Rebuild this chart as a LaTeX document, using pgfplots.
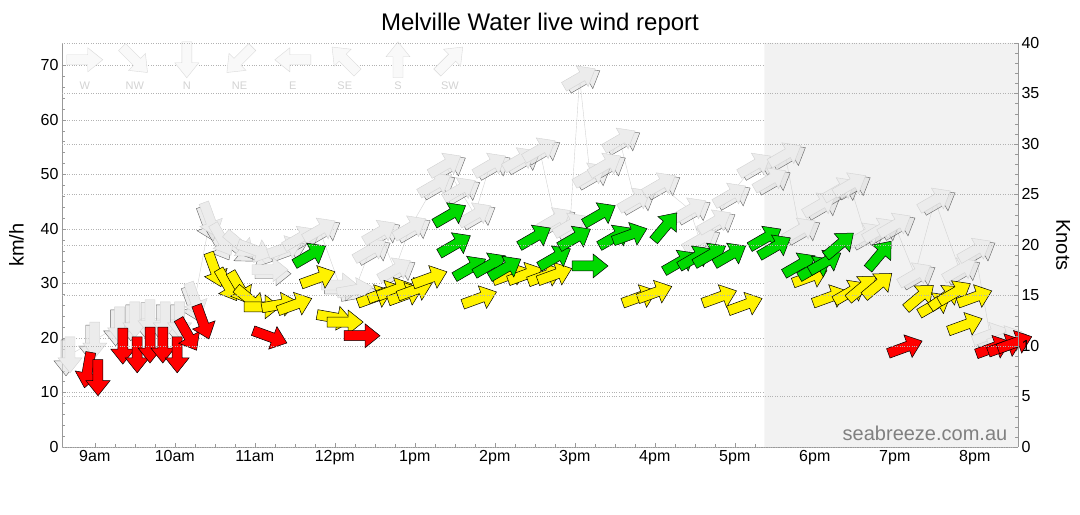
\documentclass[border=0pt]{standalone}
\usepackage{pgfplots}
\usepackage{pgfplotstable}
\pgfplotsset{compat=1.18}
\usepackage{fontspec}
\setmainfont{Liberation Sans}
\pgfdeclareplotmark{warrow}{\pgfpathmoveto{\pgfpoint{-18pt}{-5pt}}\pgfpathlineto{\pgfpoint{3pt}{-5pt}}\pgfpathlineto{\pgfpoint{3pt}{-12pt}}\pgfpathlineto{\pgfpoint{18pt}{0pt}}\pgfpathlineto{\pgfpoint{3pt}{12pt}}\pgfpathlineto{\pgfpoint{3pt}{5pt}}\pgfpathlineto{\pgfpoint{-18pt}{5pt}}\pgfpathclose\pgfusepathqfillstroke}
\pgfplotstableread{
x y a
8.91 14.1 -100
9.04 12.7 -90
9.35 18.5 -90
9.53 16.9 -90
9.69 18.7 -90
9.85 18.7 -90
10.03 16.9 -90
10.16 20.6 -60
10.35 22.9 -70
11.19 20.2 -20
12.34 20.4 0
19.13 18.3 20
20.23 18.2 20
20.38 18.5 20
20.5 19.1 20
}\red
\pgfplotstableread{
x y a
10.5 32.5 -70
10.66 29.7 -60
10.81 29.2 -60
10.94 27.0 -40
11.09 25.7 0
11.31 26.1 10
11.5 26.1 20
11.79 31.0 20
12.0 23.7 -10
12.13 22.9 0
12.5 27.5 20
12.63 28.3 20
12.75 28.8 20
12.88 27.9 20
13.0 28.8 20
13.19 31.0 20
13.81 27.3 20
14.19 31.6 20
14.38 31.6 20
14.63 31.4 20
14.75 31.6 20
15.81 27.5 20
16.0 28.3 20
16.81 27.5 20
17.13 26.1 20
17.94 31.2 20
18.19 27.5 20
18.44 28.4 30
18.59 29.2 40
18.79 29.7 40
19.31 27.5 40
19.5 26.1 30
19.63 27.5 35
19.75 28.3 30
20.0 27.5 20
19.88 22.4 20
}\yel
\pgfplotstableread{
x y a
11.69 35.2 30
13.44 42.6 30
13.5 37.1 30
13.69 32.8 30
13.94 33.4 30
14.13 32.8 30
14.5 38.5 30
14.75 34.7 30
15.0 38.3 30
15.19 33.2 0
15.31 42.6 30
15.5 38.5 30
15.69 38.9 20
16.13 40.4 50
16.31 33.9 30
16.5 34.7 30
16.69 35.2 30
16.94 35.2 30
17.38 38.3 30
17.5 36.7 30
17.81 33.4 30
18.0 32.8 30
18.13 33.9 30
18.31 37.1 40
18.81 35.2 50
}\grn
\pgfplotstableread{
x y a
8.69 16.9 -90
9.0 19.6 -90
9.31 22.4 -90
9.5 23.3 -90
9.69 23.7 -90
9.88 23.3 -90
10.06 23.3 -90
10.25 27.0 -70
10.44 41.7 -70
10.59 38.0 -60
10.81 37.1 -40
11.0 36.1 -20
11.19 32.5 0
11.38 36.5 20
11.56 38.3 30
11.81 39.8 30
12.06 29.7 0
12.25 28.8 10
12.44 36.1 30
12.56 39.4 30
12.75 32.5 30
12.94 40.2 30
13.25 48.1 30
13.38 51.7 30
13.56 47.2 30
13.75 42.6 30
13.94 51.7 30
14.31 52.7 30
14.56 54.5 30
14.75 41.7 30
14.94 40.7 30
15.06 67.7 30
15.19 49.9 30
15.38 51.7 30
15.56 56.3 30
15.75 45.3 30
16.06 48.1 30
16.44 43.5 30
16.56 38.0 30
16.75 41.3 30
16.94 46.2 30
17.25 51.7 30
17.44 49.0 30
17.63 53.6 30
17.81 39.8 30
18.06 44.4 30
18.31 47.2 30
18.44 48.1 30
18.63 38.9 30
18.81 39.8 30
19.0 40.7 30
19.25 31.6 30
19.5 45.3 30
19.81 32.5 30
20.0 36.1 30
20.19 20.6 20
20.38 20.0 20
}\gry
\pgfplotstableread{
x y a
8.875 71 0
9.5 71 -45
10.15 71 -90
10.81 71 -135
11.475 71 180
12.125 71 135
12.79 71 90
13.44 71 45
}\leg
\pgfplotstableread{
x y l
8.875 66.3 W
9.5 66.3 NW
10.15 66.3 N
10.81 66.3 NE
11.475 66.3 E
12.125 66.3 SE
12.79 66.3 S
13.44 66.3 SW
}\legl
\begin{document}
\begin{tikzpicture}[font=\fontsize{16}{19}\selectfont]
\pgfplotsset{arr/.style={only marks, scatter, mark=warrow, point meta=0,
  visualization depends on={\thisrow{a}\as\ang},
  scatter/@pre marker code/.code={\pgfscope\pgftransformrotate{\ang}},
  scatter/@post marker code/.code={\endpgfscope},
  mark options={draw=black,fill=#1,line width=0.5pt}}}
\begin{axis}[name=a, scale only axis, width=956pt, height=404pt,
  xmin=8.59, xmax=20.54, ymin=0, ymax=74.08,
  axis y line*=left, axis x line*=bottom,
  xtick={9,...,20}, xticklabels={9am,10am,11am,12pm,1pm,2pm,3pm,4pm,5pm,6pm,7pm,8pm},
  minor x tick num=3,
  ytick={0,10,...,70}, minor y tick num=4,
  ymajorgrids, grid style={dotted, gray!60},
  ylabel={km/h}, ylabel style={font=\fontsize{20}{22}\selectfont, yshift=10pt},
  title={Melville Water live wind report}, title style={font=\fontsize{24}{26}\selectfont, yshift=-2pt},
  axis line style={gray!80}, tick style={gray!80},
  /pgf/number format/assume math mode=true, clip=false]
\addplot[fill=gray!10, draw=none] coordinates {(17.37,0)(20.54,0)(20.54,74.08)(17.37,74.08)} \closedcycle;
\addplot[gray!35, thin, no marks] table {\gry};
\addplot[arr=gray!25, mark options={draw=none, fill=gray!25, opacity=0.6, xshift=3pt, yshift=-4pt}] table {\gry};
\addplot[arr=gray!15, mark options={draw=gray!35, fill=gray!15}] table {\gry};
\addplot[arr=gray!5, mark options={draw=gray!30, fill=gray!5}] table {\leg};
\addplot[only marks, mark=none, nodes near coords={\pgfplotspointmeta}, point meta=explicit symbolic, nodes near coords style={anchor=center, font=\fontsize{11}{12}\selectfont, text=gray!35}] table[meta=l] {\legl};
\addplot[arr=yellow] table {\yel};
\addplot[arr=green!85!black] table {\grn};
\addplot[arr=red] table {\red};
\node[anchor=south east, text=gray, font=\fontsize{20}{22}\selectfont] at (axis cs:20.45,0.5) {seabreeze.com.au};
\end{axis}
\begin{axis}[scale only axis, width=956pt, height=404pt,
  xmin=8.59, xmax=20.54, ymin=0, ymax=40,
  axis y line*=right, axis x line=none,
  ytick={0,5,...,40}, minor y tick num=4,
  ymajorgrids, grid style={dotted, gray!60},
  ylabel={Knots}, ylabel style={font=\fontsize{20}{22}\selectfont, rotate=180, yshift=10pt},
  axis line style={gray!80}, tick style={gray!80},
  /pgf/number format/assume math mode=true]
\end{axis}
\pgfresetboundingbox
\path ([shift={(-62pt,-68pt)}]a.south west) rectangle ([shift={(62pt,43pt)}]a.north east);
\end{tikzpicture}
\end{document}
